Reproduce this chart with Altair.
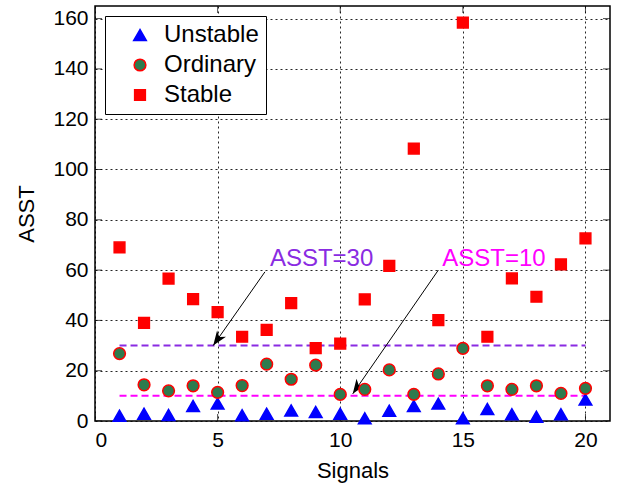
import math
import altair as alt
import pandas as pd

# ---------------- data ----------------
signals = list(range(1, 21))
unstable = [2.1, 2.9, 2.4, 6.0, 6.9, 2.3, 2.9, 4.2, 3.6, 2.9, 1.1, 4.1, 6.0, 6.9, 1.1, 4.8, 2.7, 1.7, 2.7, 8.5]
ordinary = [26.8, 14.4, 12.0, 14.0, 11.4, 14.1, 22.6, 16.6, 22.2, 10.6, 12.6, 20.3, 10.6, 18.7, 28.9, 14.0, 12.6, 14.0, 11.0, 13.0]
stable = [69.0, 39.0, 56.6, 48.5, 43.3, 33.5, 36.2, 46.9, 29.0, 30.8, 48.4, 61.7, 108.3, 40.1, 158.4, 33.5, 56.7, 49.4, 62.3, 72.6]
classes = ["Unstable", "Ordinary", "Stable"]

x_ticks = [0, 5, 10, 15, 20]
y_ticks = [0, 20, 40, 60, 80, 100, 120, 140, 160]
x_domain = [0, 21]
y_domain = [0, 165]

thresholds = [30, 10]
threshold_labels = ["ASST=30", "ASST=10"]
threshold_colors = ["#8A2BE2", "#FF00FF"]
line_x = [1, 20]
label_x = [9.24, 16.27]
label_y = [61.6, 61.6]
arrow_start_x = [6.93, 14.0]
arrow_start_y = [59.3, 60.0]
arrow_tip_x = [4.82, 10.51]
arrow_tip_y = [30.0, 10.8]

# ---------------- layout ----------------
W, H = 515, 415
FONT = "Liberation Sans"

rows = []
for i, (cls, vals) in enumerate(zip(classes, [unstable, ordinary, stable])):
    for s, v in zip(signals, vals):
        rows.append({"Signal": s, "ASST": v, "Class": cls, "k": i})
df = pd.DataFrame(rows)

xs = alt.Scale(domain=x_domain, nice=False, zero=False)
ys = alt.Scale(domain=y_domain, nice=False)

x_axis = alt.Axis(values=x_ticks, title="Signals", grid=True, ticks=False, domain=False,
                  labelPadding=8, titlePadding=10, format="d")
y_axis = alt.Axis(values=y_ticks, title="ASST", grid=True, ticks=False, domain=False,
                  labelPadding=7, titlePadding=14, format="d")

legend = alt.Legend(title=None, orient="top-left", offset=10,
                    strokeColor="black", fillColor="white", padding=7,
                    labelFontSize=24, labelFont=FONT,
                    labelExpr="datum.label + '\u00a0\u00a0'",
                    rowPadding=6, labelOffset=12, symbolOffset=16,
                    symbolStrokeWidth=1.5, cornerRadius=0)

points = alt.Chart(df).mark_point(filled=True, opacity=1, strokeWidth=1.5).encode(
    x=alt.X("Signal:Q", scale=xs, axis=x_axis),
    y=alt.Y("ASST:Q", scale=ys, axis=y_axis),
    fill=alt.Fill("Class:N", scale=alt.Scale(domain=classes, range=["#0000FF", "#2E7B4E", "#FF0000"]), legend=legend),
    stroke=alt.Stroke("Class:N", scale=alt.Scale(domain=classes, range=["#0000FF", "#FF0000", "#FF0000"]), legend=legend),
    shape=alt.Shape("Class:N", scale=alt.Scale(domain=classes, range=["triangle-up", "circle", "square"]), legend=legend),
    size=alt.Size("Class:N", scale=alt.Scale(domain=classes, range=[160, 115, 115]), legend=legend),
    order=alt.Order("k:Q"),
)

layers = []
for thr, lab, col, lx, ly in zip(thresholds, threshold_labels, threshold_colors, label_x, label_y):
    ldf = pd.DataFrame({"x": [line_x[0]], "x2": [line_x[1]], "y": [thr]})
    layers.append(alt.Chart(ldf).mark_rule(color=col, strokeWidth=2, strokeDash=[7, 4]).encode(
        x=alt.X("x:Q", scale=xs), x2="x2:Q", y=alt.Y("y:Q", scale=ys)))
    tdf = pd.DataFrame({"x": [lx], "y": [ly], "t": [lab]})
    layers.append(alt.Chart(tdf).mark_text(color=col, fontSize=24, font=FONT, align="center",
                                           baseline="alphabetic").encode(
        x=alt.X("x:Q", scale=xs), y=alt.Y("y:Q", scale=ys), text="t:N"))

adf = pd.DataFrame({"x": arrow_start_x, "y": arrow_start_y, "x2": arrow_tip_x, "y2": arrow_tip_y})
px_x = W / (x_domain[1] - x_domain[0])
px_y = H / (y_domain[1] - y_domain[0])
adf["angle"] = [
    (math.degrees(math.atan2((tx - sx) * px_x, (ty - sy) * px_y)) + 360) % 360
    for sx, sy, tx, ty in zip(arrow_start_x, arrow_start_y, arrow_tip_x, arrow_tip_y)
]
arrow_lines = alt.Chart(adf).mark_rule(color="black", strokeWidth=1).encode(
    x=alt.X("x:Q", scale=xs), y=alt.Y("y:Q", scale=ys), x2="x2:Q", y2="y2:Q")
arrow_heads = alt.Chart(adf).mark_point(
    shape="M0,0 L0.75,2 L0,1.45 L-0.75,2 Z", filled=True, color="black", opacity=1, size=210
).encode(
    x=alt.X("x2:Q", scale=xs), y=alt.Y("y2:Q", scale=ys), angle=alt.Angle("angle:Q", scale=None))

# inward box ticks
xt = pd.DataFrame({"v": x_ticks})
yt = pd.DataFrame({"v": y_ticks})
tick_b = alt.Chart(xt).mark_tick(orient="vertical", size=14, thickness=1, color="black", clip=True).encode(
    x=alt.X("v:Q", scale=xs), y=alt.datum(y_domain[0]))
tick_t = alt.Chart(xt).mark_tick(orient="vertical", size=14, thickness=1, color="black", clip=True).encode(
    x=alt.X("v:Q", scale=xs), y=alt.datum(y_domain[1]))
tick_l = alt.Chart(yt).mark_tick(orient="horizontal", size=14, thickness=1, color="black", clip=True).encode(
    y=alt.Y("v:Q", scale=ys), x=alt.datum(x_domain[0]))
tick_r = alt.Chart(yt).mark_tick(orient="horizontal", size=14, thickness=1, color="black", clip=True).encode(
    y=alt.Y("v:Q", scale=ys), x=alt.datum(x_domain[1]))

chart = alt.layer(
    tick_b, tick_t, tick_l, tick_r, *layers, arrow_lines, arrow_heads, points
).properties(
    width=W, height=H,
    background="white",
    autosize=alt.AutoSizeParams(type="none"),
    padding={"left": 95, "top": 6, "right": 11, "bottom": 64},
).configure_view(
    stroke="black", strokeWidth=1.5
).configure_axis(
    labelFont=FONT, labelFontSize=21, labelColor="black",
    titleFont=FONT, titleFontSize=22, titleFontWeight="normal", titleColor="black",
    gridColor="black", gridDash=[2, 3], gridOpacity=0.85, gridWidth=1,
)

chart.save("out.html", embed_options={"renderer": "svg", "actions": False})
